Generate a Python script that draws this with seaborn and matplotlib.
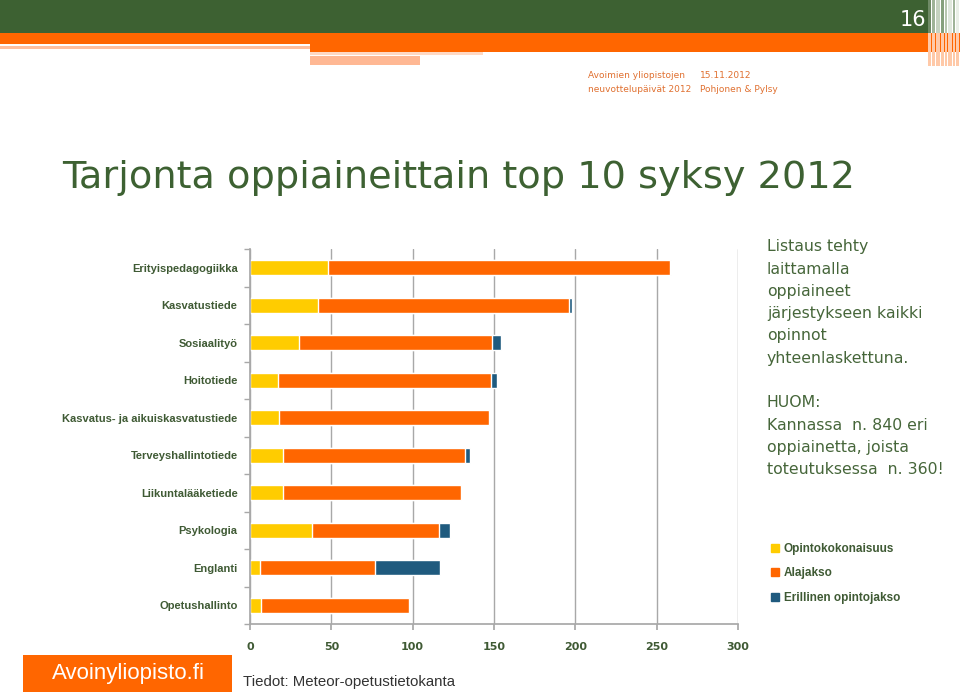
import matplotlib
matplotlib.use("Agg")
import matplotlib.pyplot as plt
import matplotlib.patches as mpatches
import seaborn as sns
import pandas as pd

# data (courses per subject, autumn 2012)
subjects = ["Erityispedagogiikka", "Kasvatustiede", "Sosiaalityö", "Hoitotiede",
            "Kasvatus- ja aikuiskasvatustiede", "Terveyshallintotiede",
            "Liikuntalääketiede", "Psykologia", "Englanti", "Opetushallinto"]
opintokokonaisuus = [48, 42, 30, 17, 18, 20, 20, 38, 6, 7]
alajakso = [210, 154, 119, 131, 129, 112, 110, 78, 71, 91]
erillinen = [1, 2, 5, 4, 0, 3, 0, 7, 40, 0]
x_ticks = [0, 50, 100, 150, 200, 250, 300]

YELLOW = "#ffcc00"
ORANGE = "#ff6600"
BLUE = "#1f5a7e"
GREEN = "#3d6132"
TEXT_GREEN = "#3f5a34"

df = pd.DataFrame({"subject": subjects, "a": opintokokonaisuus, "b": alajakso, "c": erillinen})
df["ab"] = df["a"] + df["b"]
df["abc"] = df["ab"] + df["c"]

sns.set_theme(style="white")
plt.rcParams["font.family"] = ["DejaVu Sans"]

W, H = 960, 696
fig = plt.figure(figsize=(9.6, 6.96), dpi=100)

def rect(x0, y0, x1, y1, color, **kw):
    # pixel coords, y from top
    fig.patches.append(mpatches.Rectangle((x0 / W, 1 - y1 / H), (x1 - x0) / W, (y1 - y0) / H,
                                          transform=fig.transFigure, color=color, lw=0, **kw))

# slide header
rect(0, 0, 928, 33, GREEN)
rect(0, 33, 960, 44, ORANGE)
rect(0, 46, 310, 49, "#ffbf9e")
rect(310, 44, 960, 52, ORANGE)
rect(310, 52, 483, 55, "#ffd9c4")
rect(310, 56, 420, 65, "#ffb894")
for x0, w, c in [(928, 3, "#6f8a66"), (932, 3, "#9fb398"), (936, 4, "#c5d2c0"), (941, 3, "#86a07c"),
                 (945, 2, "#b6c6ae"), (948, 4, "#dfe7dc"), (953, 2, "#9fb398"), (956, 3, "#e9efe7")]:
    rect(x0, 0, x0 + w, 33, c)
    rect(x0, 33, x0 + w, 66, "#ffc9a8")
fig.text(913 / W, 1 - 20 / H, "16", color="white", fontsize=15, ha="center", va="center")

for x, y, s in [(588, 76, "Avoimien yliopistojen"), (588, 89, "neuvottelupäivät 2012"),
                (700, 76, "15.11.2012"), (700, 89, "Pohjonen & Pylsy")]:
    fig.text(x / W, 1 - y / H, s, color="#e07030", fontsize=6.5, va="center",
             family="Liberation Sans Narrow")

fig.text(62 / W, 1 - 178 / H, "Tarjonta oppiaineittain top 10 syksy 2012", color=GREEN,
         fontsize=27.5, va="center", ha="left")

# chart
ax = fig.add_axes([250 / W, 1 - 624 / H, (738 - 250) / W, (624 - 249) / H])
sns.barplot(data=df, x="abc", y="subject", color=BLUE, width=0.4, saturation=1, ax=ax)
sns.barplot(data=df, x="ab", y="subject", color=ORANGE, width=0.4, saturation=1, ax=ax)
sns.barplot(data=df, x="a", y="subject", color=YELLOW, width=0.4, saturation=1, ax=ax)

ax.set_xlim(0, 300)
ax.set_ylim(len(subjects) - 0.5, -0.5)
ax.set_xticks(x_ticks)
ax.set_xticklabels([str(t) for t in x_ticks], fontsize=8, fontweight="bold", color=TEXT_GREEN)
ax.set_yticklabels(subjects, fontsize=8, fontweight="bold", color=TEXT_GREEN,
                   family="Liberation Sans")
ax.set_xlabel("")
ax.set_ylabel("")
ax.xaxis.grid(True, color="#a8a8a8", lw=1)
ax.set_axisbelow(True)
for s in ["top", "right"]:
    ax.spines[s].set_visible(False)
ax.spines["left"].set_color("#a8a8a8")
ax.spines["bottom"].set_color("#a8a8a8")
ax.tick_params(axis="x", bottom=True, length=4, color="#a8a8a8", pad=9)
ax.tick_params(axis="y", left=False, pad=3)
ax.set_yticks([i + 0.5 for i in range(-1, len(subjects))], minor=True)
ax.tick_params(axis="y", which="minor", left=True, length=4, color="#a8a8a8")

# legend
handles = [mpatches.Patch(color=YELLOW, label="Opintokokonaisuus"),
           mpatches.Patch(color=ORANGE, label="Alajakso"),
           mpatches.Patch(color=BLUE, label="Erillinen opintojakso")]
leg = fig.legend(handles=handles, loc="upper left", bbox_to_anchor=(771 / W, 1 - 543 / H),
                 frameon=False, prop={"family": "Liberation Sans", "size": 8.5, "weight": "bold"},
                 handlelength=0.7, handleheight=0.7,
                 handletextpad=0.4, labelspacing=1.05, borderaxespad=0, borderpad=0)
for t in leg.get_texts():
    t.set_color(TEXT_GREEN)

# side notes
note1 = ["Listaus tehty", "laittamalla", "oppiaineet", "järjestykseen kaikki", "opinnot",
         "yhteenlaskettuna."]
note2 = ["HUOM:", "Kannassa  n. 840 eri", "oppiainetta, joista", "toteutuksessa  n. 360!"]
for i, line in enumerate(note1):
    fig.text(767 / W, 1 - (247 + 22.2 * i) / H, line, color="#46663a", fontsize=11.3, va="center")
for i, line in enumerate(note2):
    fig.text(767 / W, 1 - (403 + 22.3 * i) / H, line, color="#46663a", fontsize=11.3, va="center")

# footer
rect(23, 655, 232, 692, ORANGE)
fig.text(128 / W, 1 - 673 / H, "Avoinyliopisto.fi", color="white", fontsize=16, ha="center",
         va="center", family="Liberation Sans")
fig.text(243 / W, 1 - 682 / H, "Tiedot: Meteor-opetustietokanta", color="#333333", fontsize=10.8,
         va="center", family="Liberation Sans")

fig.savefig("out.png", dpi=100)
